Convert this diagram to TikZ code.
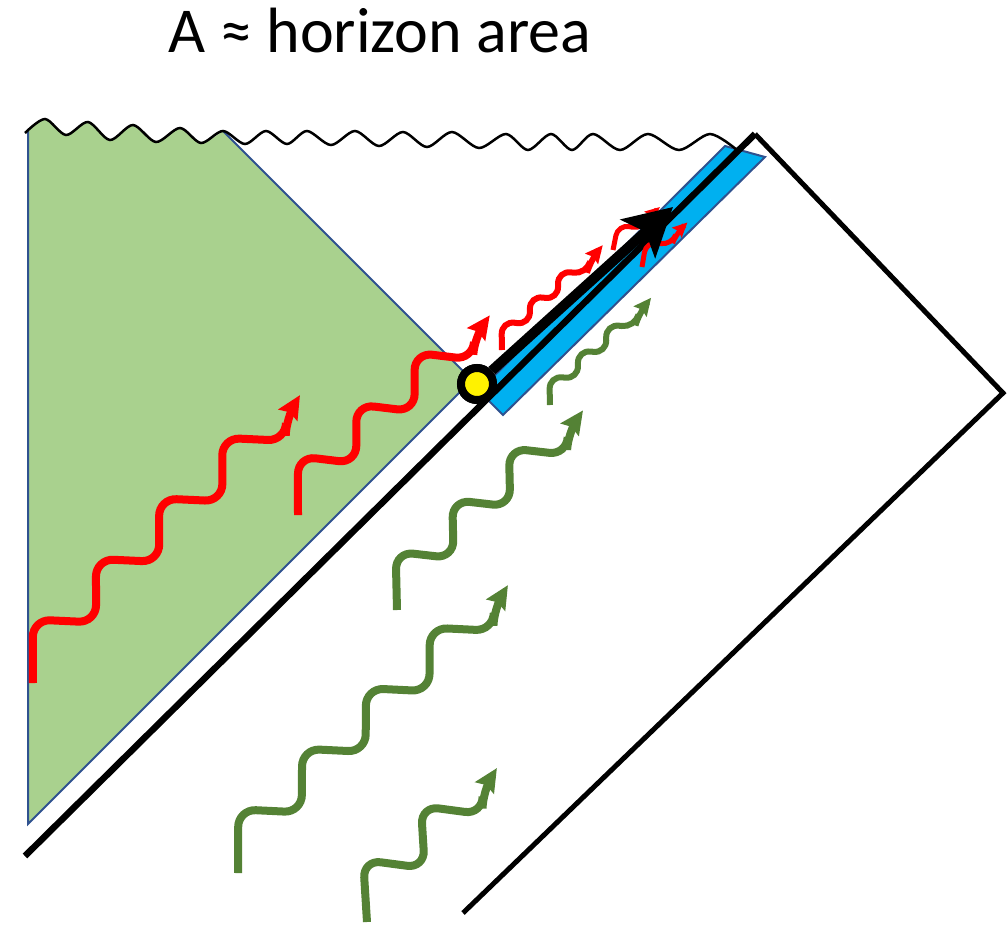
\documentclass[tikz,border=0pt]{standalone}
\usepackage{fontspec}
\setmainfont{Carlito}
\usetikzlibrary{arrows.meta}

\definecolor{photonred}{HTML}{FF0000}
\definecolor{photongreen}{HTML}{548235}
\definecolor{regiongreen}{HTML}{A9D18E}
\definecolor{edgeblue}{HTML}{2F528F}
\definecolor{stripblue}{HTML}{00B0F0}

\begin{document}
\begin{tikzpicture}[x=0.5pt, y=-0.5pt,
    horizon/.style={line width=3.25pt, black},
    boundary/.style={line width=2.5pt, black},
    singularity/.style={line width=1.25pt, black},
    region/.style={fill=regiongreen},
    regionedge/.style={line width=1pt, edgeblue},
    strip/.style={fill=stripblue, draw=edgeblue, line width=1pt},
    wave/.style={line width=#1, rounded corners=2.2*#1, -{Stealth[length=0pt 2.9, width=0pt 2.7, inset=0pt 0.4]}},
    redwave/.style={wave=#1, photonred},
    greenwave/.style={wave=#1, photongreen},
    bigarrow/.style={line width=5pt, black, -{Stealth[length=23.5pt, width=25.5pt, inset=5pt]}},
    dot/.style={circle, draw=black, line width=4pt, fill=yellow, minimum size=16pt, inner sep=0pt}]

    \useasboundingbox (0,0) rectangle (1008,927);

    \node[font=\fontsize{32pt}{38pt}\selectfont, anchor=base] (title) at (380,52) {A ≈ horizon area};

    % corners of the diagram
    \coordinate (hbot) at (25,856);
    \coordinate (htop) at (755,134);
    \coordinate (iright) at (1003,393);
    \coordinate (ibot) at (463,913);
    \coordinate (gleft) at (28,131);
    \coordinate (gtop) at (223,131);
    \coordinate (gbot) at (28,824);
    \coordinate (apex) at (472,380);
    \coordinate (s1) at (479,391);
    \coordinate (s2) at (503,415);
    \coordinate (s3) at (765,157);
    \coordinate (s4) at (725,146);

    % interior region
    \fill[region] plot[smooth] coordinates {(28,131) (45,119) (66,135) (88,122) (110,140) (133,125) (156,142) (180,128) (201,143) (223,131)} -- (apex) -- (gbot) -- cycle;
    \draw[regionedge] (gleft) -- (gbot) -- (apex) -- (gtop);

    % strip along the horizon
    \draw[strip] (s1) -- (s2) -- (s3) -- (s4) -- cycle;

    % singularity
    \draw[singularity] plot[smooth] coordinates {(25,133) (45,119) (66,135) (88,122) (110,140) (133,125) (156,142) (180,128) (201,143) (223,131) (245,144) (266,131) (287,144) (307,131) (331,145) (355,131) (379,146) (403,132) (427,147) (452,132) (479,148) (506,134) (528,150) (551,134) (572,150) (593,134) (620,150) (648,134) (679,150) (710,134) (737,150)};

    \draw[horizon] (hbot) -- (htop);
    \draw[boundary] (htop) -- (iright) -- (ibot);

    % infalling quanta
    \begin{scope}[shift={(33,683)}, rotate=43.8]
        \draw[redwave=4pt] (0,0) \foreach \k in {1,...,4} { -- ({(\k-0.5)*87.5},-46) -- ({\k*87.5},0) } -- (366,-16) -- (392,-23);
    \end{scope}
    \begin{scope}[shift={(298,515)}, rotate=41.6]
        \draw[redwave=4pt] (0,0) \foreach \k in {1,...,3} { -- ({(\k-0.5)*78},-44) -- ({\k*78},0) } -- (250,-16) -- (276,-22);
    \end{scope}
    \begin{scope}[shift={(502,350)}, rotate=41.8]
        \draw[redwave=3pt] (0,0) \foreach \k in {1,...,3} { -- ({(\k-0.5)*37.8},-22) -- ({\k*37.8},0) } -- (126,-8) -- (145,-11);
    \end{scope}
    \begin{scope}[shift={(613,250)}, rotate=34.4]
        \draw[redwave=2.5pt] (0,0) -- (18.5,-18) -- (37,0) -- (48,-7) -- (63,-9);
    \end{scope}
    \begin{scope}[shift={(642,267)}, rotate=36.3]
        \draw[redwave=2.5pt] (0,0) -- (18.5,-18) -- (37,0) -- (48,-7) -- (63,-9);
    \end{scope}

    \begin{scope}[shift={(238,873)}, rotate=43.5]
        \draw[greenwave=4pt] (0,0) \foreach \k in {1,...,4} { -- ({(\k-0.5)*88},-46) -- ({\k*88},0) } -- (368,-16) -- (394,-23);
    \end{scope}
    \begin{scope}[shift={(367,922)}, rotate=43]
        \draw[greenwave=4pt] (0,0) \foreach \k in {1,2} { -- ({(\k-0.5)*79},-48) -- ({\k*79},0) } -- (174,-17) -- (200,-24);
    \end{scope}
    \begin{scope}[shift={(397,610)}, rotate=42.4]
        \draw[greenwave=4pt] (0,0) \foreach \k in {1,...,3} { -- ({(\k-0.5)*76.7},-44) -- ({\k*76.7},0) } -- (246,-16) -- (272,-22);
    \end{scope}
    \begin{scope}[shift={(550,405)}, rotate=42.4]
        \draw[greenwave=3pt] (0,0) \foreach \k in {1,...,3} { -- ({(\k-0.5)*38.3},-22) -- ({\k*38.3},0) } -- (128,-8) -- (147,-11);
    \end{scope}

    % bifurcation point and outgoing flow
    \node[dot] (bh) at (477,384) {};
    \coordinate (flow) at (673,207);
    \draw[bigarrow] (bh) -- (flow);
    \node[dot] at (bh) {};
\end{tikzpicture}
\end{document}
